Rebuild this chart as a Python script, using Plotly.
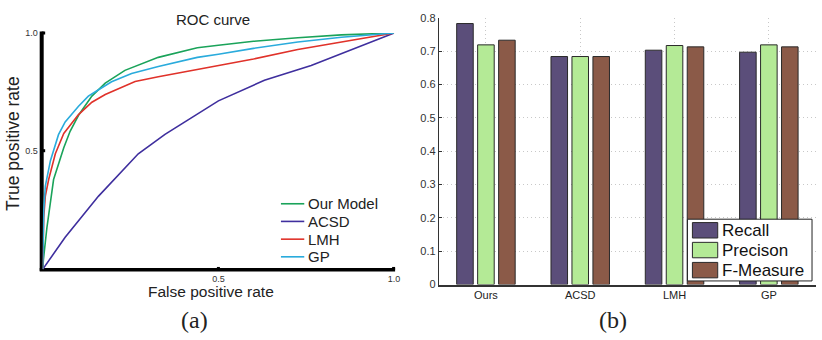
import plotly.graph_objects as go

W, H = 822, 340

# ---------- ROC data (left panel) ----------
our_fpr = [0, 0.002, 0.012, 0.031, 0.06, 0.078, 0.102, 0.14, 0.178, 0.234, 0.329, 0.44, 0.5, 0.6, 0.726, 0.85, 1.0]
our_tpr = [0, 0.04, 0.176, 0.38, 0.515, 0.584, 0.652, 0.733, 0.788, 0.842, 0.897, 0.9375, 0.948, 0.965, 0.98, 0.992, 1.0]

acsd_fpr = [0, 0.064, 0.159, 0.272, 0.348, 0.5, 0.631, 0.764, 1.0]
acsd_tpr = [0, 0.136, 0.31, 0.489, 0.571, 0.713, 0.80, 0.863, 1.0]

lmh_fpr = [0, 0.003, 0.0075, 0.017, 0.036, 0.06, 0.102, 0.14, 0.178, 0.263, 0.329, 0.44, 0.5, 0.6, 0.726, 1.0]
lmh_tpr = [0, 0.22, 0.31, 0.38, 0.489, 0.575, 0.655, 0.707, 0.74, 0.795, 0.815, 0.845, 0.863, 0.89, 0.93, 1.0]

gp_fpr = [0, 0.003, 0.0075, 0.022, 0.045, 0.055, 0.064, 0.102, 0.13, 0.159, 0.196, 0.253, 0.329, 0.44, 0.5, 0.6, 0.726, 0.85, 1.0]
gp_tpr = [0, 0.25, 0.352, 0.46, 0.57, 0.598, 0.624, 0.69, 0.733, 0.76, 0.794, 0.829, 0.858, 0.897, 0.91, 0.935, 0.962, 0.982, 1.0]

roc_names = ["Our Model", "ACSD", "LMH", "GP"]
roc_colors = ["#1aa35a", "#3f2f9e", "#e0322a", "#2aabdc"]

roc_ticks = [0.5, 1.0]
roc_ticktext = ["0.5", "1.0"]

# ---------- Bar data (right panel) ----------
methods = ["Ours", "ACSD", "LMH", "GP"]
recall = [0.783, 0.684, 0.703, 0.697]
precision = [0.719, 0.684, 0.717, 0.719]
fmeasure = [0.733, 0.684, 0.713, 0.713]
bar_names = ["Recall", "Precison", "F-Measure"]
bar_colors = ["#5b4e7a", "#b4ea96", "#8b5a48"]
bar_yticks = [0, 0.1, 0.2, 0.3, 0.4, 0.5, 0.6, 0.7, 0.8]
bar_yticktext = ["0", "0.1", "0.2", "0.3", "0.4", "0.5", "0.6", "0.7", "0.8"]


def px(x):
    return x / W


def py(y):
    return 1 - y / H


fig = go.Figure()

roc_data = [(our_fpr, our_tpr), (acsd_fpr, acsd_tpr), (lmh_fpr, lmh_tpr), (gp_fpr, gp_tpr)]
for (fx, ty), name, col in zip(roc_data, roc_names, roc_colors):
    fig.add_trace(go.Scatter(x=fx, y=ty, mode="lines", name=name,
                             line=dict(color=col, width=1.6),
                             xaxis="x", yaxis="y", showlegend=False, cliponaxis=False))

xs = [1, 2, 3, 4]
for vals, name, col in zip([recall, precision, fmeasure], bar_names, bar_colors):
    fig.add_trace(go.Bar(x=xs, y=vals, name=name, marker=dict(color=col, line=dict(color="#2a2a2a", width=1)),
                         xaxis="x2", yaxis="y2", showlegend=False))

font = "Liberation Sans"

fig.update_layout(
    width=W, height=H,
    margin=dict(l=0, r=0, t=0, b=0),
    paper_bgcolor="white", plot_bgcolor="white",
    barmode="group", bargap=0.333, bargroupgap=0.21,
    font=dict(family=font, color="#222"),
    xaxis=dict(domain=[px(43), px(397)], range=[0, 1], showgrid=False, zeroline=False, showline=False,
               tickvals=roc_ticks, ticktext=roc_ticktext, ticks="", ticklabelstandoff=3,
               tickfont=dict(size=9, color="#333", family=font), anchor="y"),
    yaxis=dict(domain=[py(273), py(28)], range=[0, 1], showgrid=False, zeroline=False, showline=False,
               tickvals=roc_ticks, ticktext=roc_ticktext, ticks="", ticklabelstandoff=4,
               tickfont=dict(size=9, color="#333", family=font), anchor="x"),
    xaxis2=dict(domain=[px(442), 1.0], range=[0.5, 4.5], tickvals=xs, ticktext=methods,
                showgrid=True, gridcolor="#c8c8c8", griddash="1px,3px", gridwidth=1, zeroline=False,
                showline=True, linecolor="#333", linewidth=1.5, ticks="", tickfont=dict(size=11, color="#222", family=font),
                anchor="y2"),
    yaxis2=dict(domain=[py(288.7), py(12.3)], range=[0, 0.8], tickvals=bar_yticks, ticktext=bar_yticktext,
                showgrid=True, gridcolor="#c8c8c8", griddash="1px,3px", gridwidth=1, zeroline=False,
                showline=True, linecolor="#333", linewidth=1, ticks="inside", ticklen=3, tickcolor="#333",
                tickfont=dict(size=11, color="#333", family=font), anchor="x2"),
)

ann = []
# left panel texts
ann.append(dict(x=px(214.5), y=py(14), text="ROC curve", showarrow=False, xanchor="center", yanchor="middle",
                font=dict(size=15, family=font, color="#222")))
ann.append(dict(x=px(13), y=py(142), text="True positive rate", showarrow=False, textangle=-90,
                xanchor="center", yanchor="middle", font=dict(size=17.5, family=font, color="#222")))
ann.append(dict(x=px(213), y=py(295.5), text="False positive rate", showarrow=False,
                xanchor="center", yanchor="middle", font=dict(size=15.5, family=font, color="#222")))
ann.append(dict(x=px(196), y=py(325), text="(a)", showarrow=False, xanchor="center", yanchor="middle",
                font=dict(size=24, family="Liberation Serif, serif", color="#222")))
ann.append(dict(x=px(617.5), y=py(325), text="(b)", showarrow=False, xanchor="center", yanchor="middle",
                font=dict(size=24, family="Liberation Serif, serif", color="#222")))

shapes = []
# thick axis lines of the ROC panel
shapes.append(dict(type="line", xref="paper", yref="paper", x0=px(42), x1=px(42), y0=py(274.5), y1=py(26.5),
                   line=dict(color="black", width=4), layer="below"))
shapes.append(dict(type="line", xref="paper", yref="paper", x0=px(40), x1=px(398), y0=py(273.5), y1=py(273.5),
                   line=dict(color="black", width=3.5), layer="below"))
# small tick marks
for (x0, y0, x1, y1) in [(42, 150, 45.5, 150), (42, 28, 45.5, 28), (220, 273.5, 220, 270.5), (396.5, 273.5, 396.5, 270.5)]:
    shapes.append(dict(type="line", xref="paper", yref="paper", x0=px(x0), x1=px(x1), y0=py(y0), y1=py(y1),
                       line=dict(color="black", width=3)))

# left legend (manual)
leg_y = [205, 223.3, 241.7, 260]
for yy, name, col in zip(leg_y, roc_names, roc_colors):
    shapes.append(dict(type="line", xref="paper", yref="paper", x0=px(283), x1=px(306.5), y0=py(yy), y1=py(yy),
                       line=dict(color=col, width=1.6)))
    ann.append(dict(x=px(308.5), y=py(yy), text=name, showarrow=False, xanchor="left", yanchor="middle",
                    font=dict(size=15, family=font, color="#222")))

# right legend (manual)
shapes.append(dict(type="rect", xref="paper", yref="paper", x0=px(692.5), x1=px(818), y0=py(285), y1=py(221),
                   fillcolor="white", line=dict(color="#222", width=1), layer="above"))
sw_top = [224.5, 245, 265.8]
for yt, name, col in zip(sw_top, bar_names, bar_colors):
    shapes.append(dict(type="rect", xref="paper", yref="paper", x0=px(697.5), x1=px(723), y0=py(yt + 16), y1=py(yt),
                       fillcolor=col, line=dict(color="#2a2a2a", width=1), layer="above"))
    ann.append(dict(x=px(725), y=py(yt + 8.5), text=name, showarrow=False, xanchor="left", yanchor="middle",
                    font=dict(size=17, family=font, color="#111")))

for a in ann:
    a.setdefault("xref", "paper")
    a.setdefault("yref", "paper")

fig.update_layout(annotations=ann, shapes=shapes)

fig.write_html("out.html")
